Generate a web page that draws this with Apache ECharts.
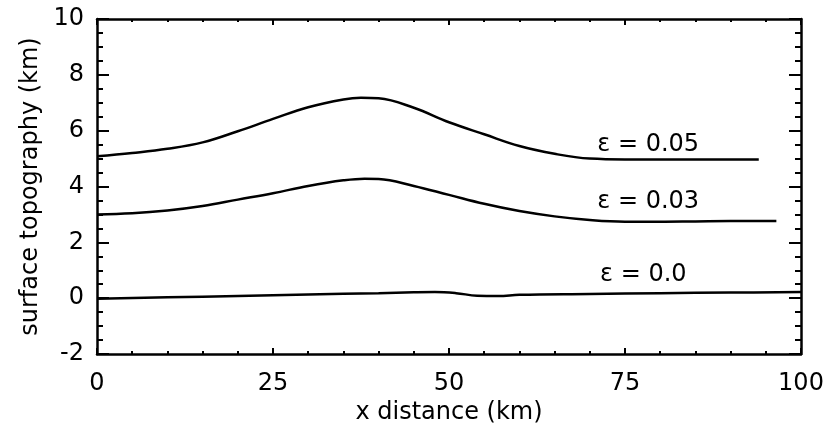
<!DOCTYPE html>
<html><head><meta charset="utf-8">
<script src="https://cdn.jsdelivr.net/npm/echarts@6/dist/echarts.min.js"></script>
<style>html,body{margin:0;padding:0;background:#fff;}#c{width:828px;height:424px;}</style>
</head><body><div id="c"></div>
<script>
// data
const x05 = [0, 5, 10, 15, 20, 25, 30, 35, 37.5, 40, 45, 50, 55, 60, 65, 70, 75, 80, 85, 90, 94];
const y05 = [5.08, 5.20, 5.35, 5.58, 5.98, 6.42, 6.84, 7.12, 7.18, 7.16, 6.82, 6.30, 5.87, 5.45, 5.17, 5.00, 4.97, 4.97, 4.97, 4.97, 4.97];
const x03 = [0, 5, 10, 15, 20, 25, 30, 35, 38, 40, 45, 50, 55, 60, 65, 70, 75, 80, 85, 90, 96.5];
const y03 = [3.00, 3.04, 3.14, 3.30, 3.53, 3.76, 4.02, 4.22, 4.28, 4.27, 4.02, 3.70, 3.38, 3.12, 2.93, 2.80, 2.74, 2.74, 2.75, 2.76, 2.76];
const x00 = [0, 10, 20, 30, 40, 45, 48, 51, 54, 57, 60, 70, 80, 90, 100];
const y00 = [-0.02, 0.03, 0.08, 0.13, 0.18, 0.21, 0.22, 0.18, 0.09, 0.08, 0.12, 0.15, 0.18, 0.20, 0.22];
const labelTexts = ['ε = 0.05', 'ε = 0.03', 'ε = 0.0'];
const labelX = [78.3, 78.3, 77.6];
const labelY = [5.49, 3.44, 0.83];
const xTickMin = 0, xTickMax = 100, xTickStep = 25;
const yTickMin = -2, yTickMax = 10, yTickStep = 2;
const xName = 'x distance (km)';
const yName = 'surface topography (km)';

const FONT = 'DejaVu Sans';
const pair = (xs, ys) => xs.map((x, i) => [x, ys[i]]);
const seriesData = [pair(x05, y05), pair(x03, y03), pair(x00, y00)];

const axisLine = {show: true, onZero: false, lineStyle: {color: '#000', width: 2.5}};
function xAx(pos, labels) {
  return {
    type: 'value', position: pos, min: xTickMin, max: xTickMax, interval: xTickStep,
    axisLine: axisLine,
    axisTick: {show: true, inside: true, length: 6, lineStyle: {color: '#000', width: 2}},
    minorTick: {show: true, splitNumber: 5, length: 3, lineStyle: {color: '#000', width: 2}},
    splitLine: {show: false},
    axisLabel: {show: labels, margin: 18, color: '#000', fontSize: 24, fontFamily: FONT},
    name: labels ? xName : '', nameLocation: 'middle', nameGap: 46,
    nameTextStyle: {color: '#000', fontSize: 24, fontFamily: FONT}
  };
}
function yAx(pos, labels) {
  return {
    type: 'value', position: pos, min: yTickMin, max: yTickMax, interval: yTickStep,
    axisLine: axisLine,
    axisTick: {show: true, inside: true, length: 12, lineStyle: {color: '#000', width: 2}},
    minorTick: {show: true, splitNumber: 4, length: 6, lineStyle: {color: '#000', width: 2}},
    splitLine: {show: false},
    axisLabel: {show: labels, margin: 13, color: '#000', fontSize: 24, fontFamily: FONT},
    name: labels ? yName : '', nameLocation: 'middle', nameGap: 54,
    nameTextStyle: {color: '#000', fontSize: 24, fontFamily: FONT}
  };
}

const series = seriesData.map((d, i) => ({
  type: 'line', data: d, xAxisIndex: 0, yAxisIndex: 0,
  showSymbol: false, smooth: 0.4,
  lineStyle: {color: '#000', width: 2.5}, itemStyle: {color: '#000'},
  markPoint: {
    symbol: 'circle', symbolSize: 0, silent: true,
    label: {show: true, position: 'inside', color: '#000', fontSize: 24, fontFamily: FONT,
            formatter: labelTexts[i]},
    data: [{coord: [labelX[i], labelY[i]]}]
  }
}));

const chart = echarts.init(document.getElementById('c'), null, {renderer: 'canvas'});
chart.setOption({
  animation: false,
  backgroundColor: '#fff',
  grid: {left: 97, top: 19, width: 704, height: 335, containLabel: false, outerBoundsMode: 'none'},
  xAxis: [xAx('bottom', true), xAx('top', false)],
  yAxis: [yAx('left', true), yAx('right', false)],
  series: series
});
</script></body></html>
